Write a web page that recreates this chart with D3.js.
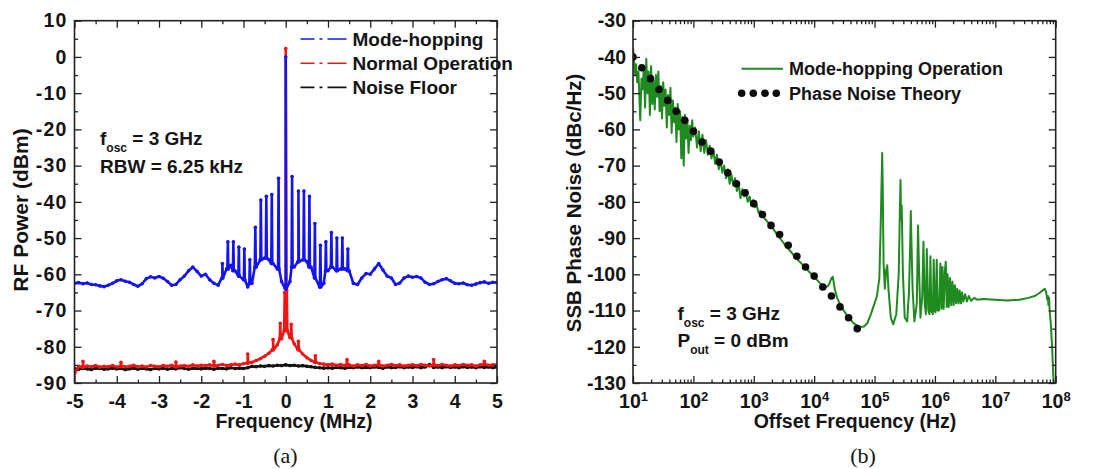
<!DOCTYPE html>
<html><head><meta charset="utf-8">
<script src="https://cdn.jsdelivr.net/npm/d3@7"></script>
<style>
body{margin:0;background:#fff}
svg text{font-family:Arial,"Liberation Sans",sans-serif;font-weight:bold;fill:#141414}
svg text.cap{font-family:"Liberation Serif","Times New Roman",serif;font-weight:normal}
</style>
</head><body><svg id="c" width="1101" height="469"></svg>
<script>
// ---------------- DATA: panel (a) ----------------
const freqStart = -5, freqStep = 0.1;   // sampling grid of the base traces (MHz)
const blueBase = [
 -62.5,-62.3,-62.6,-62.4,-62.8,-62.9,-63.2,-63.4,-63.0,-62.5,
 -61.8,-61.5,-61.9,-62.2,-62.8,-63.3,-62.6,-61.2,-60.7,-61.0,
 -60.6,-61.1,-62.0,-63.0,-62.8,-61.5,-60.5,-59.0,-58.0,-59.2,
 -60.5,-60.0,-61.5,-62.5,-63.0,-61.0,-58.5,-57.5,-59.0,-60.5,
 -61.5,-63.5,-62.5,-58.0,-56.0,-55.5,-56.0,-57.0,-58.5,-62.0,
 -64.0,-62.0,-58.0,-56.5,-56.0,-56.5,-58.0,-61.0,-63.5,-62.5,
 -59.0,-58.0,-59.0,-58.5,-58.5,-59.0,-62.5,-62.8,-61.0,-59.8,
 -60.0,-58.5,-57.0,-58.8,-60.5,-61.0,-62.8,-62.4,-61.0,-60.5,
 -60.8,-60.6,-61.0,-62.2,-62.8,-62.6,-62.0,-61.5,-61.2,-61.8,
 -62.5,-62.6,-62.4,-62.9,-63.0,-62.7,-62.3,-62.1,-62.5,-62.2,
 -62.3];
const blueSpurF = [-1.5,-1.37,-1.24,-1.11,-0.98,-0.85,-0.72,-0.59,-0.46,-0.33,-0.17,0,0.15,0.3,0.43,0.56,0.69,0.82,0.95,1.08,1.21,1.34,1.47];
const blueSpurP = [-57,-51,-51,-52.5,-53,-56,-47,-39.5,-38.5,-38,-33.5,0,-33,-37,-37,-38.5,-46,-52,-51,-48.5,-50,-50,-53];

const redBase = [
 -87.5,
 -85.4,-85.6,-85.3,-85.5,-85.2,-85.6,-85.4,-85.5,-85.2,-85.6,
 -85.3,-85.5,-85.4,-85.1,-85.5,-85.3,-85.6,-85.2,-85.4,-85.5,
 -85.2,-85.4,-85.1,-85.5,-85.3,-85.2,-85.4,-85.0,-85.3,-85.1,
 -85.2,-85.0,-85.3,-85.1,-84.9,-85.2,-85.0,-84.8,-85.0,-84.7,
 -84.5,-84.3,-83.8,-83.3,-82.6,-81.8,-80.8,-79.5,-77.8,-75.5,
 -77.5,-79.2,-80.8,-82.0,-83.0,-83.8,-84.3,-84.6,-84.8,-85.0,
 -84.8,-85.1,-84.9,-85.2,-85.0,-85.3,-85.0,-85.2,-84.9,-85.3,
 -85.1,-85.0,-85.3,-85.1,-84.9,-85.2,-85.0,-85.3,-85.1,-85.0,
 -85.2,-84.9,-85.1,-85.3,-85.0,-85.2,-84.9,-85.1,-85.3,-85.0,
 -85.2,-84.9,-85.1,-85.0,-85.3,-85.0,-84.8,-85.1,-85.0,-84.9];
const redSpurF = [-4.8,-3.9,-2.6,-1.7,-0.9,-0.3,-0.13,-0.025,0,0.025,0.13,0.3,0.7,1.45,2.2,3.5,4.7];
const redSpurP = [-84,-84.3,-84.2,-84,-82,-78,-73.5,-65,2.3,-64.5,-73.8,-78.5,-82.5,-83.5,-84,-83.5,-84];

const blackBase = [
 -86.0,-86.2,-85.9,-86.1,-86.3,-85.9,-86.0,-86.2,-86.1,-85.9,
 -86.1,-86.0,-86.3,-86.1,-85.9,-86.2,-86.0,-86.1,-86.3,-86.0,
 -86.1,-85.9,-86.2,-86.0,-86.1,-85.8,-86.0,-86.2,-85.9,-86.0,
 -86.1,-85.9,-86.0,-86.2,-85.9,-86.0,-86.1,-85.8,-86.0,-85.9,
 -86.0,-85.8,-85.4,-85.5,-85.3,-85.4,-85.2,-85.3,-85.1,-85.2,
 -85.0,-85.2,-85.1,-85.3,-85.2,-85.4,-85.5,-85.7,-85.8,-85.9,
 -85.8,-85.9,-85.7,-85.8,-85.9,-85.7,-85.8,-85.6,-85.8,-85.7,
 -85.8,-85.6,-85.7,-85.9,-85.6,-85.8,-85.7,-85.5,-85.8,-85.6,
 -85.7,-85.5,-85.8,-85.6,-84.9,-85.7,-85.6,-85.8,-85.5,-85.7,
 -85.6,-85.8,-85.5,-85.7,-85.6,-85.8,-85.5,-85.7,-85.6,-85.8,
 -85.6];

const aXTicks = [-5,-4,-3,-2,-1,0,1,2,3,4,5];
const aYTicks = [10,0,-10,-20,-30,-40,-50,-60,-70,-80,-90];
const aLegend = ["Mode-hopping","Normal Operation","Noise Floor"];
const aColors = ["#1414f0","#f01414","#111111"];

// ---------------- DATA: panel (b) ----------------
// [log10(offset frequency in Hz), dBc/Hz]
const greenData = [
 [1.00,-37.5],[1.01,-39],[1.03,-45],[1.05,-42],[1.07,-47],[1.09,-44],[1.11,-53],[1.12,-57.5],[1.14,-46],[1.16,-49],
 [1.18,-42.5],[1.20,-54],[1.22,-40.5],[1.24,-50],[1.26,-44],[1.28,-56],[1.30,-42.5],[1.32,-53],[1.34,-46.5],[1.36,-54.5],
 [1.38,-45],[1.40,-51],[1.42,-44],[1.44,-55],[1.46,-48],[1.48,-57],[1.50,-47],[1.52,-53.5],[1.54,-49],[1.56,-59.5],
 [1.58,-50.5],[1.60,-56],[1.62,-48.5],[1.64,-61],[1.66,-52],[1.68,-58],[1.70,-54],[1.72,-63.5],[1.74,-53],[1.76,-60],
 [1.78,-55],[1.80,-68],[1.82,-56.5],[1.84,-70],[1.86,-56],[1.88,-62.5],[1.90,-57.5],[1.92,-66.5],[1.94,-59],[1.96,-63],
 [1.98,-57.5],[2.00,-62],[2.03,-59.5],[2.06,-65],[2.09,-60.5],[2.12,-66],[2.15,-61.5],[2.18,-66.5],[2.21,-63],[2.24,-67],
 [2.27,-64.5],[2.30,-68],[2.33,-65.5],[2.36,-69.5],[2.39,-67],[2.42,-71],[2.45,-68.5],[2.48,-72],[2.51,-70],[2.54,-73.5],
 [2.57,-71],[2.60,-75],[2.63,-72.5],[2.66,-75.5],[2.69,-73.5],[2.72,-77],[2.75,-75],[2.78,-79],[2.81,-76.5],[2.84,-78.5],
 [2.87,-77.5],[2.90,-80],[2.93,-78.5],[2.96,-81],[2.99,-79.5],[3.02,-81.5],[3.05,-81],[3.08,-83],[3.11,-82.5],[3.15,-84],
 [3.20,-85],[3.30,-87],[3.40,-89.3],[3.50,-91.5],[3.60,-93.5],[3.70,-95.5],[3.80,-97.2],[3.90,-99],[4.00,-100.7],[4.10,-102.5],
 [4.18,-103.8],[4.24,-103],[4.29,-101],[4.31,-100.7],[4.34,-104],[4.38,-106.5],[4.45,-109],[4.55,-111.5],[4.65,-113.5],[4.75,-114.5],
 [4.82,-114.5],[4.88,-113.5],[4.94,-111],[4.99,-108.5],[5.04,-106],[5.08,-101],[5.10,-88],[5.12,-72],[5.127,-66.5],[5.135,-75],
 [5.15,-97],[5.17,-104],[5.19,-99],[5.21,-97.5],[5.23,-104],[5.27,-112],[5.31,-113.8],[5.36,-111],[5.40,-100],[5.42,-82],
 [5.43,-74],[5.44,-85],[5.45,-81],[5.47,-100],[5.50,-112],[5.54,-113],[5.57,-105],[5.59,-92],[5.60,-82.5],[5.61,-90],
 [5.63,-104],[5.66,-113],[5.70,-108],[5.72,-86.5],[5.735,-97],[5.76,-112],[5.79,-106],[5.81,-91],[5.83,-108],[5.85,-111],
 [5.865,-93],[5.89,-110],[5.91,-111],[5.925,-95],[5.94,-110],[5.965,-111],[5.98,-96],[5.995,-110],[6.01,-110.5],[6.03,-96],
 [6.045,-110],[6.07,-110],[6.09,-97],[6.11,-109.5],[6.125,-98],[6.145,-109.5],[6.165,-99],[6.18,-96.5],[6.195,-109],[6.21,-100],
 [6.23,-109],[6.25,-101],[6.27,-108.5],[6.29,-102],[6.31,-108.5],[6.33,-103],[6.35,-108],[6.37,-104],[6.39,-108],[6.41,-104.5],
 [6.43,-108],[6.45,-105],[6.47,-107.5],[6.50,-105.5],[6.53,-107.5],[6.56,-106],[6.60,-107.3],[6.65,-106.5],[6.70,-107],[6.80,-106.8],
 [7.00,-107],[7.20,-107.2],[7.40,-107],[7.55,-106.5],[7.65,-106],[7.72,-105.3],[7.78,-104.5],[7.82,-104],[7.84,-104.8],[7.86,-107],
 [7.87,-106],[7.88,-108.5],[7.89,-106.5],[7.90,-110],[7.92,-114],[7.94,-120],[7.96,-128],[7.97,-131]];

const theoryF = [10,14,19.5,27,37.5,52,72,100,139,193,268,372,517,720,1000,1390,1930,2680,3720,5170,7200,10000,13900,19300,26800,37200,51700];
const theoryV = [-40,-43,-46,-49,-52,-55,-57.5,-60.5,-63.5,-66,-69,-72,-75,-77.5,-80.5,-83.5,-86.5,-89,-92,-95,-98,-100.5,-103.5,-106,-109,-112,-115];

const bXExp = [1,2,3,4,5,6,7,8];
const bYTicks = [-30,-40,-50,-60,-70,-80,-90,-100,-110,-120,-130];
const bLegend = ["Mode-hopping Operation","Phase Noise Theory"];
const greenColor = "#1f8a1f";

// ---------------- DRAWING ----------------
const svg = d3.select("#c");
const defs = svg.append("defs");

function frameAxes(g, x, y, box, xMajor, xMinor, yMajor, yMinor, xFmt, yLetter) {
  const mk = (ax, vals, len, fmt, pad) => ax.tickValues(vals).tickSizeInner(len).tickSizeOuter(0).tickPadding(pad).tickFormat(fmt);
  const gb = g.append("g").attr("transform",`translate(0,${box.y1})`).call(mk(d3.axisBottom(x), xMajor, -7, xFmt, 11));
  g.append("g").attr("transform",`translate(0,${box.y1})`).call(mk(d3.axisBottom(x), xMinor, -3.5, ()=>"", 0));
  g.append("g").attr("transform",`translate(0,${box.y0})`).call(mk(d3.axisTop(x), xMajor, -7, ()=>"", 0));
  g.append("g").attr("transform",`translate(0,${box.y0})`).call(mk(d3.axisTop(x), xMinor, -3.5, ()=>"", 0));
  const gl = g.append("g").attr("transform",`translate(${box.x0},0)`).call(mk(d3.axisLeft(y), yMajor, -7, d=>String(d), 7));
  g.append("g").attr("transform",`translate(${box.x0},0)`).call(mk(d3.axisLeft(y), yMinor, -3.5, ()=>"", 0));
  g.append("g").attr("transform",`translate(${box.x1},0)`).call(mk(d3.axisRight(y), yMajor, -7, ()=>"", 0));
  g.append("g").attr("transform",`translate(${box.x1},0)`).call(mk(d3.axisRight(y), yMinor, -3.5, ()=>"", 0));
  g.selectAll(".domain").remove();
  g.selectAll(".tick line").attr("stroke","#222").attr("stroke-width",1.3);
  g.selectAll(".tick text").attr("font-size",19.5).attr("fill","#141414").attr("font-family",null);
  if (yLetter) gl.selectAll(".tick text").attr("letter-spacing", yLetter);
  g.append("rect").attr("x",box.x0).attr("y",box.y0).attr("width",box.x1-box.x0).attr("height",box.y1-box.y0)
    .attr("fill","none").attr("stroke","#222").attr("stroke-width",1.6);
  return {gb, gl};
}

// ===== Panel (a) =====
const A = {x0:74.5, x1:497, y0:20.7, y1:383};
const xa = d3.scaleLinear().domain([-5,5]).range([A.x0,A.x1]);
const ya = d3.scaleLinear().domain([-90,10]).range([A.y1,A.y0]);
defs.append("clipPath").attr("id","clipA").append("rect").attr("x",A.x0).attr("y",A.y0-8).attr("width",A.x1-A.x0).attr("height",A.y1-A.y0+8);

function buildTrace(base, spurF, spurP) {
  const pts = base.map((v,i)=>({f: +(freqStart + i*freqStep).toFixed(3), v}));
  spurF.forEach((f,k)=>{
    const i = Math.round((f - freqStart)/freqStep);
    const b = base[Math.max(0,Math.min(base.length-1,i))];
    pts.push({f: f-0.012, v: b}, {f: f, v: spurP[k]}, {f: f+0.012, v: b});
  });
  pts.sort((a,b)=>a.f-b.f);
  return pts;
}
const gA = svg.append("g");
const plotA = gA.append("g").attr("clip-path","url(#clipA)");
const lineA = d3.line().x(d=>xa(d.f)).y(d=>ya(d.v));
const tracesA = [
  {pts: buildTrace(blackBase, [], []), c: aColors[2]},
  {pts: buildTrace(redBase, redSpurF, redSpurP), c: aColors[1]},
  {pts: buildTrace(blueBase, blueSpurF, blueSpurP), c: aColors[0]}
];
tracesA.forEach(t=>{
  plotA.append("path").datum(t.pts).attr("d",lineA).attr("fill","none").attr("stroke",t.c).attr("stroke-width",2.6).attr("stroke-linejoin","round");
  plotA.selectAll(null).data(t.pts).enter().append("circle")
    .attr("cx",d=>xa(d.f)).attr("cy",d=>ya(d.v)).attr("r",1.8).attr("fill",t.c);
});

frameAxes(gA, xa, ya, A, aXTicks, d3.range(-4.5,5,1), aYTicks, d3.range(-85,10,10), d=>String(d), 1.2);

// legend (a)
const legA = gA.append("g");
aLegend.forEach((name,i)=>{
  const cy = 39 + i*24.2;
  legA.append("line").attr("x1",300.5).attr("x2",346.5).attr("y1",cy).attr("y2",cy)
    .attr("stroke",aColors[i]).attr("stroke-width",1.6).attr("stroke-dasharray","14,5,3,5,19");
  legA.append("text").attr("x",352.5).attr("y",cy+6.8).attr("font-size",19).text(name);
});
// annotations (a)
const tA1 = gA.append("text").attr("x",100).attr("y",145).attr("font-size",19);
tA1.append("tspan").text("f");
tA1.append("tspan").attr("font-size",12).attr("dy",7).text("osc");
tA1.append("tspan").attr("dy",-7).text(" = 3 GHz");
gA.append("text").attr("x",100).attr("y",172.5).attr("font-size",19).text("RBW = 6.25 kHz");
// titles (a)
gA.append("text").attr("x",294).attr("y",428).attr("text-anchor","middle").attr("font-size",19.5).text("Frequency (MHz)");
gA.append("text").attr("transform","translate(27.5,210) rotate(-90)").attr("text-anchor","middle").attr("font-size",21).text("RF Power (dBm)");
gA.append("text").attr("class","cap").attr("x",285.5).attr("y",463).attr("text-anchor","middle").attr("font-size",22).text("(a)");

// ===== Panel (b) =====
const B = {x0:633, x1:1055.7, y0:20.7, y1:383};
const xb = d3.scaleLog().domain([10,1e8]).range([B.x0,B.x1]);
const yb = d3.scaleLinear().domain([-130,-30]).range([B.y1,B.y0]);
defs.append("clipPath").attr("id","clipB").append("rect").attr("x",B.x0).attr("y",B.y0).attr("width",B.x1-B.x0).attr("height",B.y1-B.y0);
const gB = svg.append("g");
const plotB = gB.append("g").attr("clip-path","url(#clipB)");
const lineB = d3.line().x(d=>xb(Math.pow(10,d[0]))).y(d=>yb(d[1]));
plotB.append("path").datum(greenData).attr("d",lineB).attr("fill","none").attr("stroke",greenColor).attr("stroke-width",2).attr("stroke-linejoin","round");
plotB.selectAll(null).data(theoryF).enter().append("circle")
  .attr("cx",d=>xb(d)).attr("cy",(d,i)=>yb(theoryV[i])).attr("r",3.8).attr("fill","#0c0c0c");

const bMajor = bXExp.map(e=>Math.pow(10,e));
const bMinor = [];
bXExp.slice(0,-1).forEach(e=>{ for(let k=2;k<10;k++) bMinor.push(k*Math.pow(10,e)); });
const axB = frameAxes(gB, xb, yb, B, bMajor, bMinor, bYTicks, d3.range(-125,-30,10), ()=>"", null);
axB.gb.selectAll(".tick text").each(function(d,i){
  const t = d3.select(this);
  t.append("tspan").text("10");
  t.append("tspan").attr("font-size",13).attr("dy","-0.55em").text(bXExp[i]);
});
// legend (b)
gB.append("line").attr("x1",741.5).attr("x2",783).attr("y1",68.7).attr("y2",68.7).attr("stroke",greenColor).attr("stroke-width",2);
gB.append("text").attr("x",789).attr("y",75).attr("font-size",18).text(bLegend[0]);
gB.selectAll(null).data([741.7,753.3,765,776.3]).enter().append("circle").attr("cx",d=>d).attr("cy",93.3).attr("r",3.8).attr("fill","#0c0c0c");
gB.append("text").attr("x",789).attr("y",99.8).attr("font-size",18).text(bLegend[1]);
// annotations (b)
const tB1 = gB.append("text").attr("x",677.5).attr("y",320).attr("font-size",19);
tB1.append("tspan").text("f");
tB1.append("tspan").attr("font-size",12).attr("dy",7).text("osc");
tB1.append("tspan").attr("dy",-7).text(" = 3 GHz");
const tB2 = gB.append("text").attr("x",677.5).attr("y",346.5).attr("font-size",19);
tB2.append("tspan").text("P");
tB2.append("tspan").attr("font-size",12).attr("dy",7).text("out");
tB2.append("tspan").attr("dy",-7).text(" = 0 dBm");
// titles (b)
gB.append("text").attr("x",855).attr("y",428).attr("text-anchor","middle").attr("font-size",19.5).text("Offset Frequency (Hz)");
gB.append("text").attr("transform","translate(581,203) rotate(-90)").attr("text-anchor","middle").attr("font-size",20.5).text("SSB Phase Noise (dBc/Hz)");
gB.append("text").attr("class","cap").attr("x",863).attr("y",463).attr("text-anchor","middle").attr("font-size",22).text("(b)");
</script></body></html>
